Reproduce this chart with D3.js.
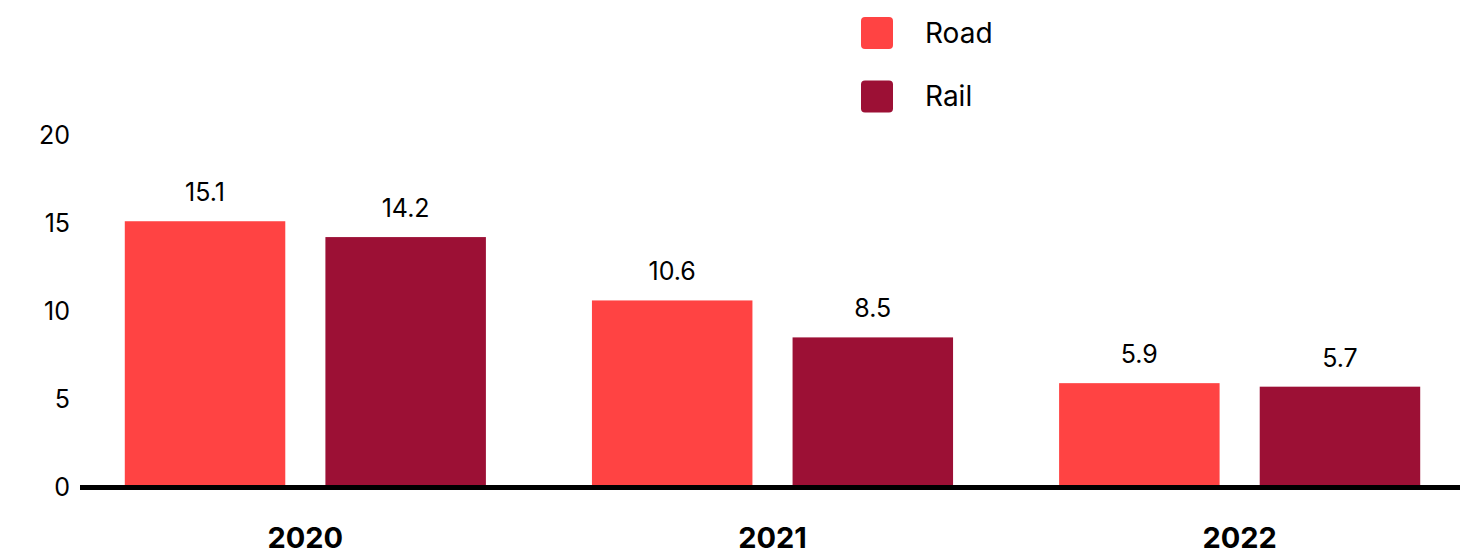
<!DOCTYPE html>
<html>
<head>
<meta charset="utf-8">
<script src="https://cdn.jsdelivr.net/npm/d3@7/dist/d3.min.js"></script>
<style>
  html, body { margin: 0; padding: 0; background: #fff; }
  svg { display: block; font-family: Inter, "Liberation Sans", Arial, sans-serif; }
</style>
</head>
<body>
<svg id="chart" width="1478" height="554"></svg>
<script>
// Data
const years = ["2020", "2021", "2022"];
const seriesNames = ["Road", "Rail"];
const roadValues = [15.1, 10.6, 5.9];
const railValues = [14.2, 8.5, 5.7];
const yTicks = [0, 5, 10, 15, 20];
const seriesColors = ["#ff4343", "#9c1035"];

const rows = years.map((y, i) => ({ year: y, values: [roadValues[i], railValues[i]] }));
const FONT = "Inter, 'Liberation Sans', Arial, sans-serif";

const svg = d3.select("#chart");

// Scales
const x0 = d3.scaleBand().domain(years).range([72, 1473]).paddingInner(0.227).paddingOuter(0.113);
const x1 = d3.scaleBand().domain(seriesNames).range([0, x0.bandwidth()]).paddingInner(0.2).paddingOuter(0);
const y = d3.scaleLinear().domain([0, 20]).range([487, 135]);
const color = d3.scaleOrdinal().domain(seriesNames).range(seriesColors);

// Y axis labels (no line, no tick marks)
const yAxis = svg.append("g")
  .attr("transform", "translate(70,0)")
  .call(d3.axisLeft(y).tickValues(yTicks).tickSize(0).tickPadding(0).tickFormat(d3.format("d")));
yAxis.select(".domain").remove();
yAxis.selectAll("text")
  .attr("fill", "#000")
  .style("font-size", "25px")
  .style("font-family", FONT);

// Bars
const groups = svg.append("g").selectAll("g")
  .data(rows)
  .join("g")
  .attr("transform", d => `translate(${x0(d.year)},0)`);

groups.selectAll("rect")
  .data(d => d.values.map((v, i) => ({ key: seriesNames[i], value: v })))
  .join("rect")
  .attr("x", d => x1(d.key))
  .attr("y", d => y(d.value))
  .attr("width", x1.bandwidth())
  .attr("height", d => y(0) - y(d.value))
  .attr("fill", d => color(d.key));

// Value labels
groups.selectAll("text.value")
  .data(d => d.values.map((v, i) => ({ key: seriesNames[i], value: v })))
  .join("text")
  .attr("class", "value")
  .attr("x", d => x1(d.key) + x1.bandwidth() / 2)
  .attr("y", d => y(d.value) - 20)
  .attr("text-anchor", "middle")
  .attr("fill", "#000")
  .style("font-size", "25px")
  .text(d => d3.format(".1f")(d.value));

// Baseline
svg.append("line")
  .attr("x1", 80).attr("x2", 1460)
  .attr("y1", y(0) + 0.5).attr("y2", y(0) + 0.5)
  .attr("stroke", "#000")
  .attr("stroke-width", 5);

// Category labels
const xAxis = svg.append("g")
  .attr("transform", `translate(0,${y(0)})`)
  .call(d3.axisBottom(x0).tickSize(0).tickPadding(0));
xAxis.select(".domain").remove();
xAxis.selectAll("text")
  .attr("dy", null)
  .attr("y", 61)
  .attr("fill", "#000")
  .style("font-size", "29px")
  .style("font-weight", "bold")
  .style("font-family", FONT);

// Legend
const legend = svg.append("g").attr("transform", "translate(861,17)");
const items = legend.selectAll("g")
  .data(seriesNames)
  .join("g")
  .attr("transform", (d, i) => `translate(0,${i * 63.5})`);
items.append("rect")
  .attr("width", 32).attr("height", 32)
  .attr("rx", 4).attr("ry", 4)
  .attr("fill", d => color(d));
items.append("text")
  .attr("x", 64)
  .attr("y", 16)
  .attr("dy", "0.35em")
  .attr("fill", "#000")
  .style("font-size", "28px")
  .text(d => d);
</script>
</body>
</html>
